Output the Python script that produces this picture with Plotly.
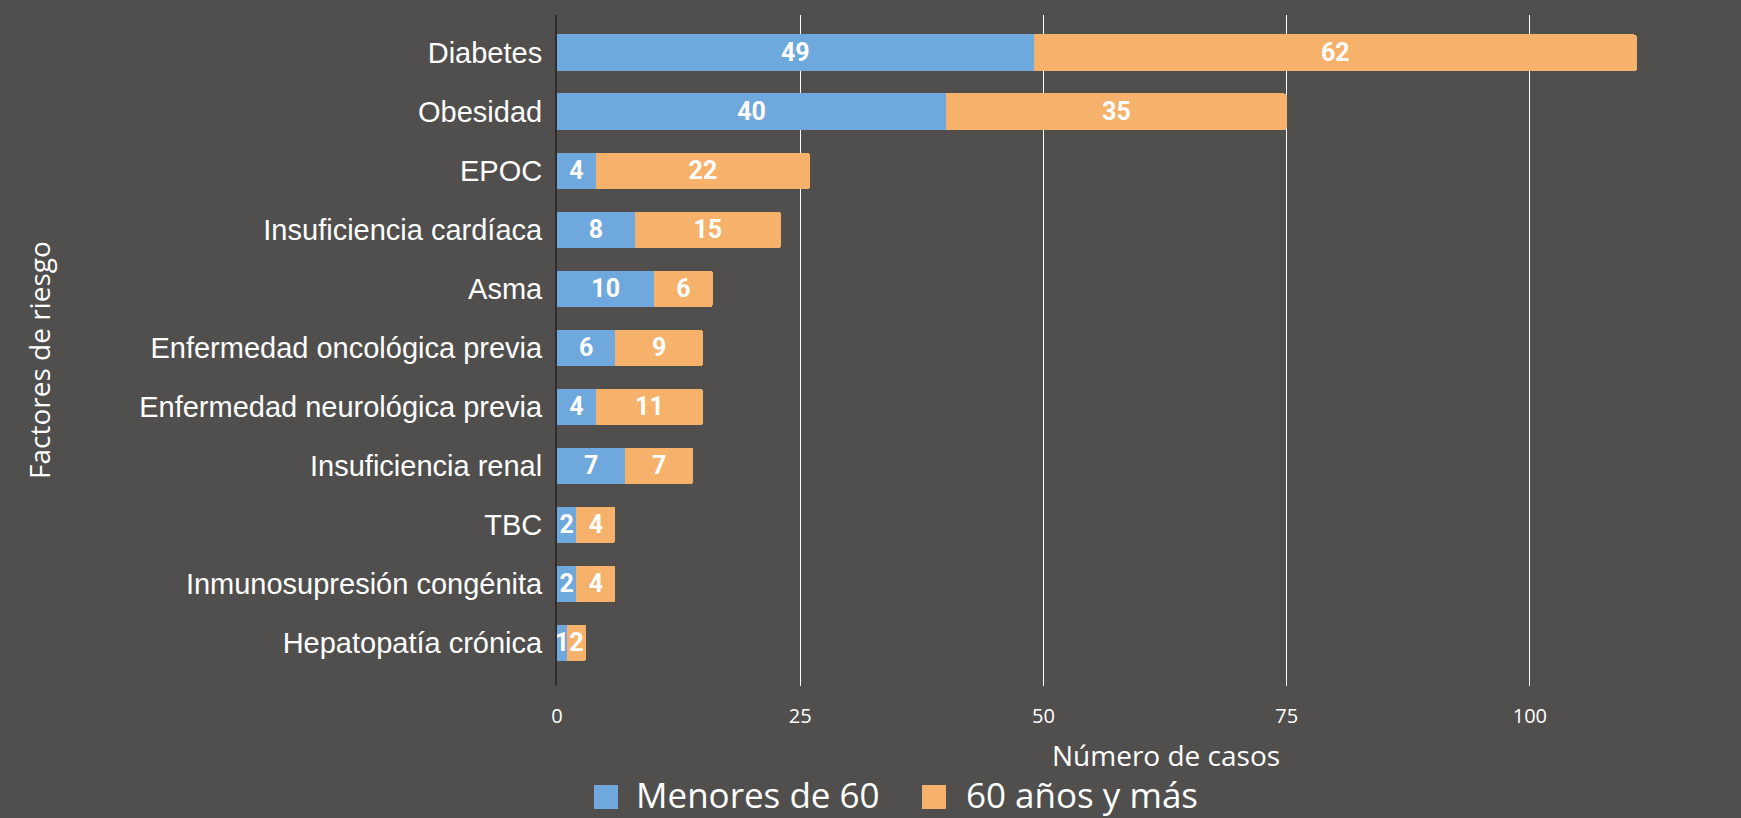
import plotly.graph_objects as go

categories = ["Diabetes", "Obesidad", "EPOC", "Insuficiencia cardíaca", "Asma",
              "Enfermedad oncológica previa", "Enfermedad neurológica previa",
              "Insuficiencia renal", "TBC", "Inmunosupresión congénita",
              "Hepatopatía crónica"]
menores_60 = [49, 40, 4, 8, 10, 6, 4, 7, 2, 2, 1]
mayores_60 = [62, 35, 22, 15, 6, 9, 11, 7, 4, 4, 2]
series_names = ["Menores de 60", "60 años y más"]
x_ticks = [0, 25, 50, 75, 100]
x_title = "Número de casos"
y_title = "Factores de riesgo"

BG = "#504f4d"
BLUE = "#6fa8dc"
ORANGE = "#f6b26b"

W, H = 1741, 818
L, R, T, B = 557, 0, 15, 132
PW, PH = W - L - R, H - T - B

def px(x):
    return (x - L) / PW

def py(y):
    return (H - B - y) / PH

label_font = dict(family="Roboto", size=25, color="white")

fig = go.Figure()
for name, vals, col in [(series_names[0], menores_60, BLUE), (series_names[1], mayores_60, ORANGE)]:
    fig.add_trace(go.Bar(
        y=categories, x=vals, name=name, orientation="h",
        marker=dict(color=col, line=dict(width=0)),
        text=[f"<b>{v}</b>" for v in vals], textposition="inside",
        insidetextanchor="middle", textangle=0,
        insidetextfont=label_font, showlegend=False, hoverinfo="skip",
    ))

# manual legend (large square swatches)
shapes = []
annotations = []
legend_items = [(series_names[0], BLUE, 594, 634), (series_names[1], ORANGE, 922, 964)]
for name, col, sx, tx in legend_items:
    shapes.append(dict(type="rect", xref="paper", yref="paper",
                       x0=px(sx), x1=px(sx + 24), y0=py(785), y1=py(809),
                       fillcolor=col, line=dict(width=0)))
    annotations.append(dict(text=name, xref="paper", yref="paper", x=px(tx), y=py(794),
                            xanchor="left", yanchor="middle", showarrow=False,
                            font=dict(family="Open Sans", size=35, color="white")))

annotations.append(dict(text=x_title, xref="paper", yref="paper", x=px(1166), y=py(755),
                        xanchor="center", yanchor="middle", showarrow=False,
                        font=dict(family="Open Sans", size=28, color="white")))
annotations.append(dict(text=y_title, xref="paper", yref="paper", x=px(39), y=py(360),
                        xanchor="center", yanchor="middle", showarrow=False, textangle=-90,
                        font=dict(family="Open Sans", size=28, color="white")))

fig.update_layout(
    width=W, height=H, autosize=False,
    margin=dict(l=L, r=R, t=T, b=B, pad=0),
    paper_bgcolor=BG, plot_bgcolor=BG,
    barmode="stack", bargap=0.38, barcornerradius=3, bargroupgap=0,
    uniformtext=dict(mode=False),
    shapes=shapes, annotations=annotations,
    xaxis=dict(range=[0, 121.7], tickvals=x_ticks, showgrid=True, gridcolor="white",
               gridwidth=1, zeroline=False, showline=False,
               ticks="outside", ticklen=12, tickcolor=BG,
               tickfont=dict(family="Open Sans", size=20, color="white")),
    yaxis=dict(categoryorder="array", categoryarray=categories, range=[10.73, -0.64],
               showgrid=False, zeroline=False, showline=True, linecolor="#2e2e2e",
               linewidth=2, ticks="outside", ticklen=7, tickcolor=BG,
               tickfont=dict(family="Liberation Sans", size=29, color="white")),
)
fig.update_traces(constraintext="none")
fig.write_html("out.html", config={"displayModeBar": False},
               post_script="document.body.style.margin='0';document.body.style.overflow='hidden';document.body.style.background='" + BG + "';")
